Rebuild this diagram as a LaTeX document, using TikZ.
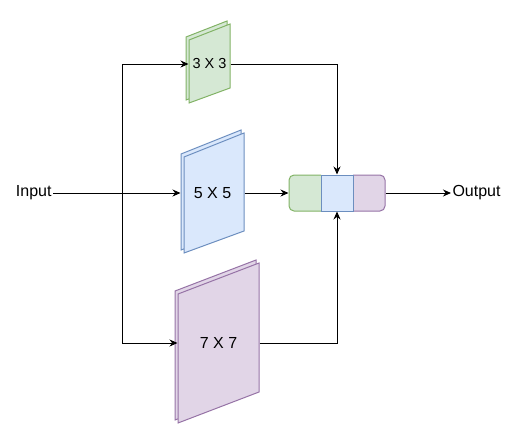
\documentclass[tikz,border=0pt]{standalone}
\usepackage{fontspec}
\setmainfont{Liberation Sans}
\usetikzlibrary{arrows.meta, positioning}

\definecolor{greenfill}{HTML}{D5E8D4}
\definecolor{greenline}{HTML}{82B366}
\definecolor{bluefill}{HTML}{DAE8FC}
\definecolor{blueline}{HTML}{6C8EBF}
\definecolor{purplefill}{HTML}{E1D5E7}
\definecolor{purpleline}{HTML}{9673A6}

\begin{document}
\begin{tikzpicture}[
  x=1pt, y=-1pt,
  line width=1pt,
  kernel/.style={font=\fontsize{16}{19}\selectfont, inner sep=0pt, minimum height=20pt},
  io/.style={font=\fontsize{16}{19}\selectfont, inner sep=1pt},
  greensheet/.style={fill=greenfill, draw=greenline},
  bluesheet/.style={fill=bluefill, draw=blueline},
  purplesheet/.style={fill=purplefill, draw=purpleline},
  arrow/.style={-{Stealth[length=8pt, width=7pt]}}
]
\useasboundingbox (0,0) rectangle (511,424);

% Feuilles (noyaux)
\filldraw[greensheet] (186,37) -- (227,21) -- (227,85) -- (186,100) -- cycle;
\filldraw[greensheet] (189,40) -- (230,24) -- (230,88) -- (189,103) -- cycle;

\filldraw[bluesheet] (181,154) -- (241,130) -- (241,228) -- (181,250) -- cycle;
\filldraw[bluesheet] (184,157) -- (244,133) -- (244,231) -- (184,253) -- cycle;

\filldraw[purplesheet] (175,291) -- (256,260) -- (256,389) -- (175,420) -- cycle;
\filldraw[purplesheet] (178,294) -- (259,263) -- (259,392) -- (178,423) -- cycle;

% Concatenation
\filldraw[greensheet, rounded corners=5pt] (321,175) -- (289,175) -- (289,211) -- (321,211);
\filldraw[purplesheet, rounded corners=5pt] (353,175) -- (385,175) -- (385,211) -- (353,211);
\filldraw[bluesheet] (321,175) rectangle (353,211);

% Noeuds
\node[kernel, font=\fontsize{14.5}{17}\selectfont, minimum width=41pt] (k3) at (209.5,64) {3 X 3};
\node[kernel, minimum width=63pt] (k5) at (212.5,193) {5 X 5};
\node[kernel, minimum width=81pt] (k7) at (218.5,343) {7 X 7};
\node[minimum width=96pt, minimum height=36pt, inner sep=0pt] (concat) at (337,193) {};

\node[io, anchor=east] (input) at (53,193) {Input};
\node[io, anchor=west] (output) at (451,193) {Output};

\coordinate (top) at (122,64);
\coordinate (bottom) at (122,343);

% Flèches
\draw[arrow] (input) -- (k5);
\draw (top) -- (bottom);
\draw[arrow] (top) -- (k3.west);
\draw[arrow] (bottom) -- (k7.west);

\draw[arrow] (k3.east) -| (concat.north);
\draw[arrow] (k5.east) -- (concat.west);
\draw[arrow] (k7.east) -| (concat.south);
\draw[arrow] (concat.east) -- (output.west);

\end{tikzpicture}
\end{document}
